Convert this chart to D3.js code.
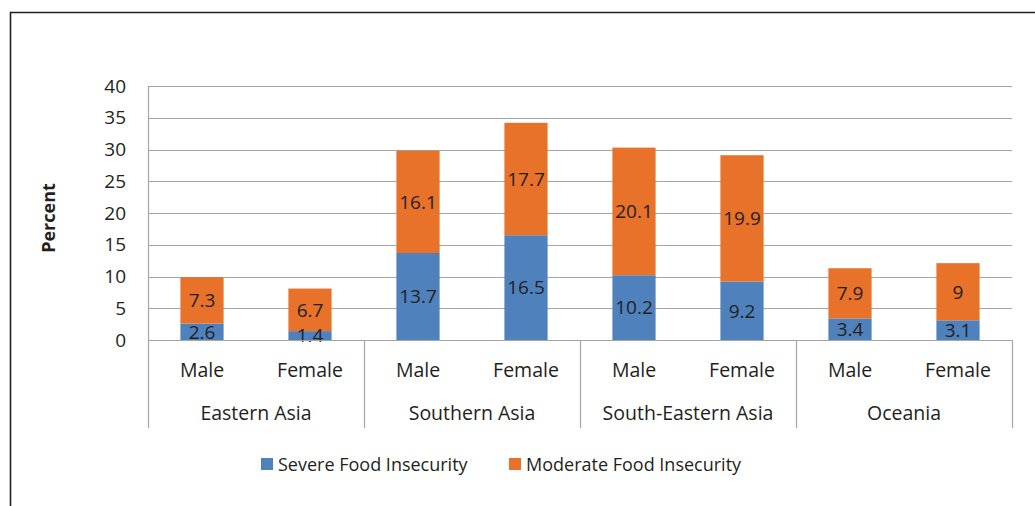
<!DOCTYPE html>
<html><head><meta charset="utf-8">
<script src="https://cdn.jsdelivr.net/npm/d3@7"></script>
<style>body{margin:0;background:#fff;}svg{display:block;font-family:"Open Sans",sans-serif;}</style>
</head><body><svg id="c" width="1035" height="506"></svg>
<script>
const regions = ["Eastern Asia","Southern Asia","South-Eastern Asia","Oceania"];
const genders = ["Male","Female"];
const severe = [2.6,1.4,13.7,16.5,10.2,9.2,3.4,3.1];
const moderate = [7.3,6.7,16.1,17.7,20.1,19.9,7.9,9];
const yTicks = [0,5,10,15,20,25,30,35,40];
const seriesNames = ["Severe Food Insecurity","Moderate Food Insecurity"];
const colors = ["#4f81bd","#e8722a"];

const svg = d3.select("#c");
const L=148,R=1012,T=86,B=340,axB=428;
const y = d3.scaleLinear().domain([0,40]).range([B,T]);
const x0 = d3.scaleBand().domain(regions).range([L,R]).padding(0);
const x1 = d3.scaleBand().domain(genders).range([0,x0.bandwidth()]).paddingInner(0.6).paddingOuter(0.3);

// frame
svg.append("path").attr("d","M10.5,506 V12.5 H1035").attr("fill","none").attr("stroke","#231f20").attr("stroke-width",1.6);

// gridlines
svg.append("g").selectAll("line").data(yTicks.filter(d=>d>0)).join("line")
  .attr("x1",L).attr("x2",R).attr("y1",d=>Math.round(y(d))+0.5).attr("y2",d=>Math.round(y(d))+0.5)
  .attr("stroke","#a6a6a6").attr("stroke-width",1.2);

// y axis labels
const yAxis = d3.axisLeft(y).tickValues(yTicks).tickSize(0).tickPadding(22);
const gy = svg.append("g").attr("transform",`translate(${L},0)`).call(yAxis);
gy.select(".domain").remove();
gy.selectAll("text").attr("font-size",19).attr("fill","#231f20").attr("font-family","Open Sans");

// bars
const data = [];
regions.forEach((r,i)=>genders.forEach((g,j)=>{
  const k=i*2+j;
  data.push({r,g,s:severe[k],m:moderate[k]});
}));
const bx = d=>x0(d.r)+x1(d.g);
const gb = svg.append("g");
gb.selectAll("rect.s").data(data).join("rect").attr("class","s")
  .attr("x",bx).attr("width",x1.bandwidth())
  .attr("y",d=>y(d.s)).attr("height",d=>y(0)-y(d.s)).attr("fill",colors[0]);
gb.selectAll("rect.m").data(data).join("rect").attr("class","m")
  .attr("x",bx).attr("width",x1.bandwidth())
  .attr("y",d=>y(d.s+d.m)).attr("height",d=>y(d.s)-y(d.s+d.m)).attr("fill",colors[1]);
// labels
const lab = svg.append("g").attr("font-size",19).attr("fill","#231f20").attr("text-anchor","middle");
lab.selectAll("text.s").data(data).join("text")
  .attr("x",d=>bx(d)+x1.bandwidth()/2).attr("y",d=>y(d.s/2)).attr("dy","0.36em").text(d=>d.s);
lab.selectAll("text.m").data(data).join("text")
  .attr("x",d=>bx(d)+x1.bandwidth()/2).attr("y",d=>y(d.s+d.m/2)).attr("dy","0.36em").text(d=>d.m);

// axis lines
const ax = svg.append("g").attr("stroke","#a6a6a6").attr("stroke-width",1.2);
ax.append("line").attr("x1",L).attr("x2",R).attr("y1",B+0.5).attr("y2",B+0.5);
ax.append("line").attr("x1",L+0.5).attr("x2",L+0.5).attr("y1",T).attr("y2",axB);
ax.selectAll("line.sep").data(regions).join("line").attr("class","sep")
  .attr("x1",d=>Math.round(x0(d)+x0.bandwidth())+0.5).attr("x2",d=>Math.round(x0(d)+x0.bandwidth())+0.5)
  .attr("y1",B).attr("y2",axB);

// category labels
const cl = svg.append("g").attr("font-size",19.5).attr("fill","#231f20").attr("text-anchor","middle");
cl.selectAll("text.g").data(data).join("text").attr("class","g")
  .attr("x",d=>bx(d)+x1.bandwidth()/2).attr("y",370).attr("dy","0.36em").text(d=>d.g);
cl.selectAll("text.r").data(regions).join("text").attr("class","r")
  .attr("x",d=>x0(d)+x0.bandwidth()/2).attr("y",413).attr("dy","0.36em").text(d=>d);

// y title
svg.append("text").attr("transform","translate(49,218) rotate(-90)").attr("text-anchor","middle")
  .attr("dy","0.36em").attr("font-size",18).attr("font-weight","bold").attr("fill","#231f20").text("Percent");

// legend
const legX=[261,509];
const lg = svg.append("g");
seriesNames.forEach((n,i)=>{
  lg.append("rect").attr("x",legX[i]).attr("y",458).attr("width",12).attr("height",12).attr("fill",colors[i]);
  lg.append("text").attr("x",legX[i]+17).attr("y",465).attr("dy","0.36em").attr("font-size",18).attr("fill","#231f20").text(n);
});
</script></body></html>
